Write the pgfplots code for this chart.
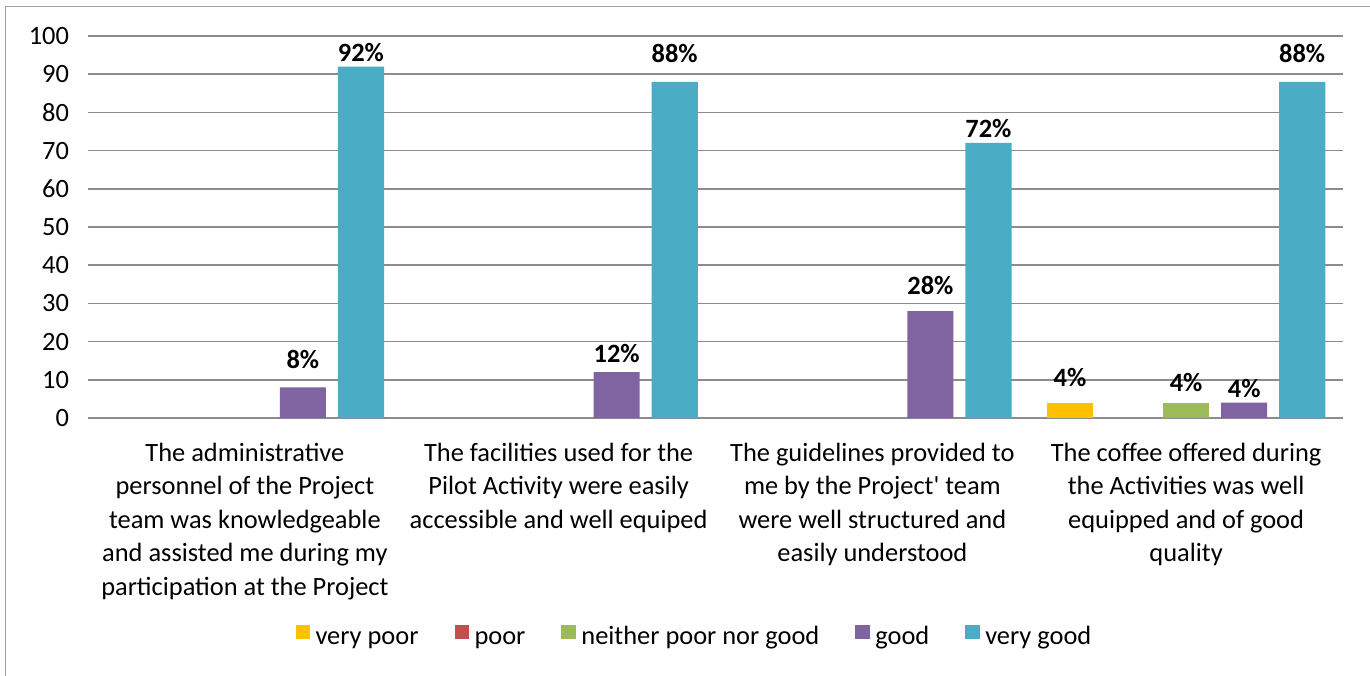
\documentclass[border=0pt]{standalone}
\usepackage{fontspec}
\setmainfont{Carlito}
\usepackage{pgfplots}
\pgfplotsset{compat=1.18}
\definecolor{cvpoor}{HTML}{FFC000}
\definecolor{cpoor}{HTML}{C0504D}
\definecolor{cneither}{HTML}{9BBB59}
\definecolor{cgood}{HTML}{8064A2}
\definecolor{cvgood}{HTML}{4BACC6}
\definecolor{cgrid}{HTML}{8C8C8C}
\definecolor{cborder}{HTML}{A0A0A0}
\newcommand{\chartfont}{\fontsize{13.2}{16.75}\selectfont}
\begin{document}
\begin{tikzpicture}[x=1pt,y=1pt]
\useasboundingbox (0,0) rectangle (685,337.5);
\draw[cborder, line width=0.75pt] (2.85,-20) -- (2.85,334.15) -- (720,334.15);
\begin{axis}[
  at={(44pt,128.5pt)}, anchor=south west,
  scale only axis, width=627.5pt, height=191pt,
  xmin=-0.5, xmax=3.5, ymin=0, ymax=100,
  ytick={0,10,...,100},
  xtick={0,1,2,3},
  xticklabels={
    {The administrative\\personnel of the Project\\team was knowledgeable\\and assisted me during my\\participation at the Project},
    {The facilities used for the\\Pilot Activity were easily\\accessible and well equiped},
    {The guidelines provided to\\me by the Project\textquotesingle{} team\\were well structured and\\easily understood},
    {The coffee offered during\\the Activities was well\\equipped and of good\\quality}},
  xticklabel style={align=center, font=\chartfont, anchor=north, yshift=-9pt},
  yticklabel style={font=\chartfont, anchor=east, xshift=-6pt},
  /pgf/number format/assume math mode=true,
  ymajorgrids, grid style={cgrid, line width=0.75pt},
  axis line style={draw=none},
  major tick length=0pt,
  legend style={at={(0.484,-0.578)}, anchor=center, draw=none, font=\chartfont,
    legend columns=-1, nodes={text height=0.72em, text depth=0.22em},
    /tikz/every even column/.append style={column sep=16pt}},
  legend image code/.code={\fill[#1] (0pt,0pt) rectangle (7.3pt,7.3pt); \path (8pt,0pt);},
  clip=false,
]
\addplot[ybar, bar width=0.147, bar shift=-0.37, fill=cvpoor, draw=none] coordinates {(3,4)};
\addlegendentry{very poor}
\addlegendimage{fill=cpoor, draw=none}
\addlegendentry{poor}
\addplot[ybar, bar width=0.147, bar shift=0, fill=cneither, draw=none] coordinates {(3,4)};
\addlegendentry{neither poor nor good}
\addplot[ybar, bar width=0.147, bar shift=0.185, fill=cgood, draw=none] coordinates {(0,8) (1,12) (2,28) (3,4)};
\addlegendentry{good}
\addplot[ybar, bar width=0.147, bar shift=0.37, fill=cvgood, draw=none] coordinates {(0,92) (1,88) (2,72) (3,88)};
\addlegendentry{very good}
\addplot[forget plot, draw=none, mark=none, nodes near coords, point meta=explicit symbolic,
  every node near coord/.append style={anchor=center, font=\chartfont\bfseries}]
  coordinates {
  (0.185,15.2) [8\%]
  (0.37,95.8) [92\%]
  (1.185,17.0) [12\%]
  (1.37,95.5) [88\%]
  (2.185,34.8) [28\%]
  (2.37,75.9) [72\%]
  (2.63,10.7) [4\%]
  (3,9.2) [4\%]
  (3.185,7.6) [4\%]
  (3.37,95.5) [88\%]
  };
\end{axis}
\end{tikzpicture}
\end{document}
